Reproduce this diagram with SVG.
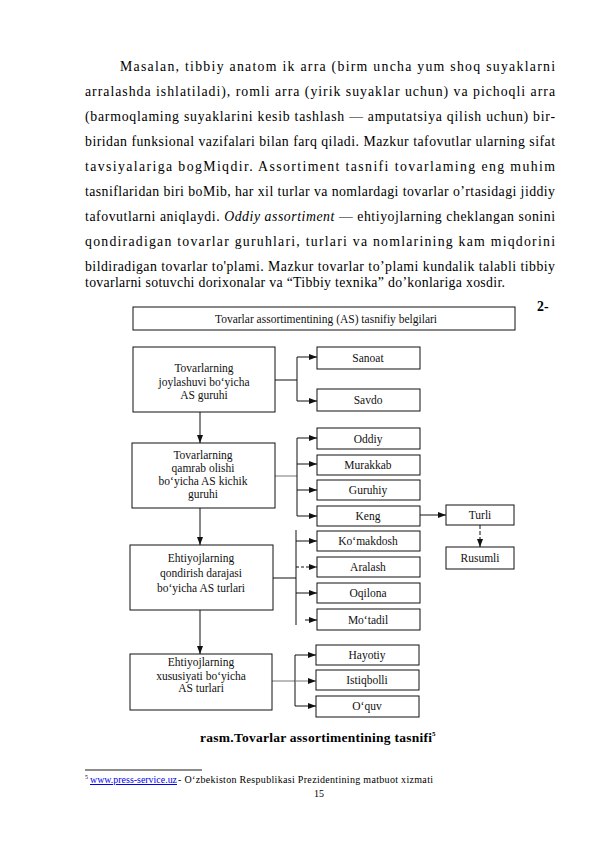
<svg xmlns="http://www.w3.org/2000/svg" width="595" height="842" viewBox="0 0 595 842">
<style>
.p{font-family:"Liberation Serif","Times New Roman",serif;font-size:13.8px;fill:#000}
.b{fill:#fff;stroke:#111;stroke-width:1}
.t{font-family:"Liberation Serif","Times New Roman",serif;font-size:11.5px;fill:#111;text-anchor:middle}
.c{fill:none;stroke:#111;stroke-width:1}
.g{fill:none;stroke:#777;stroke-width:1}
.f{font-family:"Liberation Serif","Times New Roman",serif;font-size:10px;fill:#000}
</style>
<defs>
<marker id="ah" viewBox="0 0 8 6" refX="8" refY="3" markerWidth="8" markerHeight="6" markerUnits="userSpaceOnUse" orient="auto">
<path d="M0,0 L8,3 L0,6 z" fill="#111"/>
</marker>
</defs>
<rect width="595" height="842" fill="#fff"/>

<g id="paragraph">
<text class="p" x="120" y="71" textLength="435" lengthAdjust="spacing">Masalan, tibbiy anatom ik arra (birm uncha yum shoq suyaklarni</text>
<text class="p" x="85" y="96" textLength="470" lengthAdjust="spacing">arralashda ishlatiladi), romli arra (yirik suyaklar uchun) va pichoqli arra</text>
<text class="p" x="85" y="121" textLength="470" lengthAdjust="spacing">(barmoqlaming suyaklarini kesib tashlash — amputatsiya qilish uchun) bir-</text>
<text class="p" x="85" y="146" textLength="470" lengthAdjust="spacing">biridan funksional vazifalari bilan farq qiladi. Mazkur tafovutlar ularning sifat</text>
<text class="p" x="85" y="171" textLength="470" lengthAdjust="spacing">tavsiyalariga bogMiqdir. Assortiment tasnifi tovarlaming eng muhim</text>
<text class="p" x="85" y="196" textLength="470" lengthAdjust="spacing">tasniflaridan biri boMib, har xil turlar va nomlardagi tovarlar o’rtasidagi jiddiy</text>
<text class="p" x="85" y="221" textLength="470" lengthAdjust="spacing">tafovutlarni aniqlaydi. <tspan font-style="italic">Oddiy assortiment</tspan> — ehtiyojlarning cheklangan sonini</text>
<text class="p" x="85" y="246" textLength="470" lengthAdjust="spacing">qondiradigan tovarlar guruhlari, turlari va nomlarining kam miqdorini</text>
<text class="p" x="85" y="271" textLength="470" lengthAdjust="spacing">bildiradigan tovarlar to'plami. Mazkur tovarlar to’plami kundalik talabli tibbiy</text>
<text class="p" x="85" y="287" textLength="420" lengthAdjust="spacing">tovarlarni sotuvchi dorixonalar va “Tibbiy texnika” do’konlariga xosdir.</text>
<text class="p" x="537" y="311" style="font-weight:bold">2-</text>
</g>

<g id="connectors">
<line class="c" x1="275" y1="380" x2="297" y2="380"/>
<line class="c" x1="297" y1="357" x2="297" y2="401"/>
<line class="c" x1="297" y1="357" x2="317" y2="357" marker-end="url(#ah)"/>
<line class="c" x1="297" y1="401" x2="317" y2="401" marker-end="url(#ah)"/>
<line class="c" x1="200" y1="412" x2="200" y2="443" marker-end="url(#ah)"/>
<line class="g" x1="275" y1="476" x2="297" y2="476"/>
<line class="c" x1="297" y1="438" x2="297" y2="516"/>
<line class="c" x1="297" y1="438" x2="317" y2="438" marker-end="url(#ah)"/>
<line class="c" x1="297" y1="464" x2="317" y2="464" marker-end="url(#ah)"/>
<line class="c" x1="297" y1="490" x2="317" y2="490" marker-end="url(#ah)"/>
<line class="c" x1="297" y1="516" x2="317" y2="516" marker-end="url(#ah)"/>
<line class="c" x1="420" y1="515" x2="446" y2="515" marker-end="url(#ah)"/>
<line class="c" x1="480" y1="525" x2="480" y2="547" stroke-dasharray="4,2" marker-end="url(#ah)"/>
<line class="c" x1="200" y1="508" x2="200" y2="545" marker-end="url(#ah)"/>
<line class="c" x1="273" y1="578" x2="296" y2="578"/>
<line class="c" x1="296" y1="530" x2="296" y2="625"/>
<line class="c" x1="296" y1="541" x2="317" y2="541" marker-end="url(#ah)"/>
<line class="c" x1="296" y1="567" x2="317" y2="567" marker-end="url(#ah)" stroke-dasharray="3,2"/>
<line class="c" x1="296" y1="593" x2="317" y2="593" marker-end="url(#ah)"/>
<line class="c" x1="305" y1="620" x2="317" y2="620" marker-end="url(#ah)"/>
<line class="c" x1="200" y1="610" x2="200" y2="654" marker-end="url(#ah)"/>
<line class="g" x1="272" y1="681" x2="295" y2="681"/>
<line class="c" x1="295" y1="655" x2="295" y2="706"/>
<line class="c" x1="295" y1="655" x2="316" y2="655" marker-end="url(#ah)"/>
<line class="g" x1="295" y1="681" x2="316" y2="681" marker-end="url(#ah)"/>
<line class="c" x1="295" y1="706" x2="316" y2="706" marker-end="url(#ah)"/>
</g>

<g id="title">
<rect class="b" x="133" y="307" width="382" height="23"/>
<text class="t" x="326" y="323">Tovarlar assortimentining (AS) tasnifiy belgilari</text>
</g>
<g id="box1">
<rect class="b" x="133" y="347" width="142" height="65"/>
<text class="t" x="204" y="372">Tovarlarning</text>
<text class="t" x="204" y="386">joylashuvi bo‘yicha</text>
<text class="t" x="204" y="399">AS guruhi</text>
</g>
<g id="box2">
<rect class="b" x="132" y="443" width="143" height="65"/>
<text class="t" x="203" y="459">Tovarlarning</text>
<text class="t" x="203" y="472">qamrab olishi</text>
<text class="t" x="203" y="485">bo‘yicha AS kichik</text>
<text class="t" x="203" y="498">guruhi</text>
</g>
<g id="box3">
<rect class="b" x="130" y="545" width="143" height="65"/>
<text class="t" x="201" y="562">Ehtiyojlarning</text>
<text class="t" x="201" y="577">qondirish darajasi</text>
<text class="t" x="201" y="592">bo‘yicha AS turlari</text>
</g>
<g id="box4">
<rect class="b" x="130" y="654" width="142" height="56"/>
<text class="t" x="201" y="666">Ehtiyojlarning</text>
<text class="t" x="201" y="680">xususiyati  bo‘yicha</text>
<text class="t" x="201" y="692">AS turlari</text>
</g>

<g id="sanoat"><rect class="b" x="317" y="347" width="103" height="22"/><text class="t" x="368" y="362">Sanoat</text></g>
<g id="savdo"><rect class="b" x="317" y="389" width="103" height="22"/><text class="t" x="368" y="404">Savdo</text></g>
<g id="oddiy"><rect class="b" x="317" y="428" width="103" height="21"/><text class="t" x="368" y="443">Oddiy</text></g>
<g id="murakkab"><rect class="b" x="317" y="455" width="103" height="20"/><text class="t" x="368" y="469">Murakkab</text></g>
<g id="guruhiy"><rect class="b" x="317" y="480" width="103" height="20"/><text class="t" x="368" y="494">Guruhiy</text></g>
<g id="keng"><rect class="b" x="317" y="506" width="103" height="20"/><text class="t" x="368" y="520">Keng</text></g>
<g id="komakdosh"><rect class="b" x="317" y="531" width="103" height="20"/><text class="t" x="368" y="545">Ko‘makdosh</text></g>
<g id="aralash"><rect class="b" x="317" y="557" width="103" height="20"/><text class="t" x="368" y="571">Aralash</text></g>
<g id="oqilona"><rect class="b" x="317" y="583" width="103" height="20"/><text class="t" x="368" y="597">Oqilona</text></g>
<g id="motadil"><rect class="b" x="317" y="609" width="103" height="21"/><text class="t" x="368" y="624">Mo‘tadil</text></g>
<g id="hayotiy"><rect class="b" x="316" y="645" width="103" height="20"/><text class="t" x="367" y="659">Hayotiy</text></g>
<g id="istiqbolli"><rect class="b" x="316" y="670" width="103" height="20"/><text class="t" x="367" y="684">Istiqbolli</text></g>
<g id="oquv"><rect class="b" x="316" y="696" width="103" height="21"/><text class="t" x="367" y="710">O‘quv</text></g>
<g id="turli"><rect class="b" x="446" y="505" width="68" height="20"/><text class="t" x="480" y="519">Turli</text></g>
<g id="rusumli"><rect class="b" x="446" y="547" width="68" height="22"/><text class="t" x="480" y="562">Rusumli</text></g>

<g id="caption">
<text class="p" x="200" y="742" style="font-weight:bold;font-size:13.5px" textLength="232" lengthAdjust="spacing">rasm.Tovarlar assortimentining tasnifi</text>
<text class="p" x="432" y="736" style="font-weight:bold;font-size:7px">5</text>
</g>

<g id="footnote">
<line x1="85" y1="770" x2="202" y2="770" stroke="#666" stroke-width="1.5"/>
<text class="f" x="85" y="779" style="font-size:6px">5</text>
<text class="f" x="90" y="783" style="fill:#00e;text-decoration:underline" textLength="87" lengthAdjust="spacingAndGlyphs">www.press-service.uz</text>
<text class="f" x="178" y="783" textLength="255" lengthAdjust="spacing">-  O‘zbekiston  Respublikasi  Prezidentining  matbuot    xizmati</text>
<text class="f" x="319" y="797" text-anchor="middle">15</text>
</g>
</svg>
